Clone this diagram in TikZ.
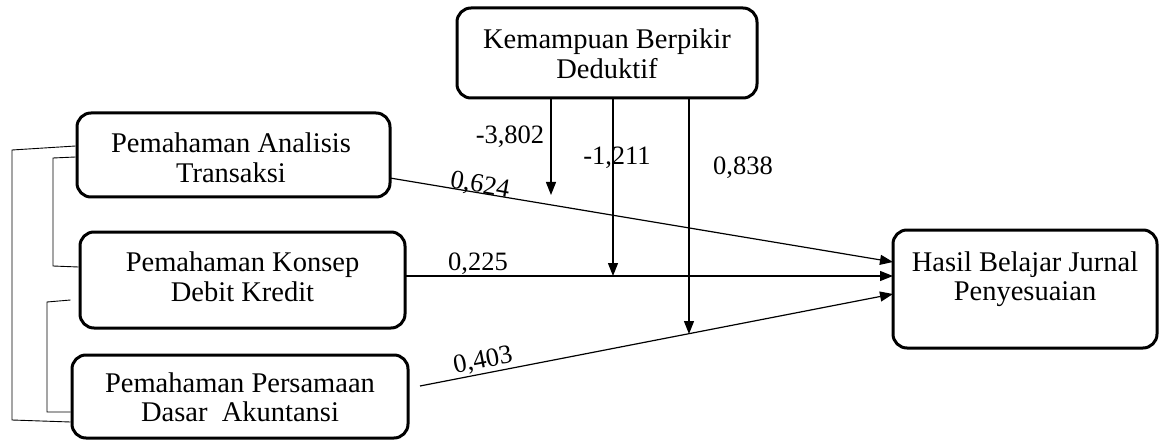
\documentclass[tikz,border=0pt]{standalone}
\usepackage{fontspec}
\setmainfont{Liberation Serif}
\usetikzlibrary{arrows.meta,calc}
\begin{document}
\begin{tikzpicture}[x=1pt,y=-1pt,
  box/.style={draw,line width=3pt,rounded corners=14pt,inner sep=0pt},
  boxtext/.style={align=center,font=\fontsize{28.5}{29.5}\selectfont,inner sep=0pt},
  conn/.style={line width=1.2pt,-{Triangle[length=13pt,width=10pt]}},
  brk/.style={line width=0.9pt},
  val/.style={font=\fontsize{26.5}{29}\selectfont,inner sep=0pt}]
\useasboundingbox (0,0) rectangle (1160,441);
% boxes
\node[box,minimum width=300pt,minimum height=90pt] (T) at (607,53) {};
\node[boxtext] (Tt) at (607,54) {Kemampuan Berpikir\\Deduktif};
\node[box,minimum width=313pt,minimum height=84pt] (A) at (233.5,155) {};
\node[boxtext] (At) at (231,158) {Pemahaman Analisis\\Transaksi};
\node[box,minimum width=325pt,minimum height=96pt] (K) at (242.5,280) {};
\node[boxtext] (Kt) at (242.5,277) {Pemahaman Konsep\\Debit Kredit};
\node[box,minimum width=336pt,minimum height=83pt] (P) at (240,396.5) {};
\node[boxtext] (Pt) at (240,397) {Pemahaman Persamaan\\Dasar\ \ Akuntansi};
\node[box,minimum width=264pt,minimum height=118pt] (H) at (1025,289) {};
\node[boxtext] (Ht) at (1025,279) {Hasil Belajar Jurnal\\Penyesuaian};
% connector end points
\coordinate (a1) at (390,178);
\coordinate (h1) at (893,262);
\coordinate (k1) at (405,276);
\coordinate (h2) at (893,276);
\coordinate (p1) at (420,386);
\coordinate (h3) at (893,294);
\coordinate (m1) at (551,195);
\coordinate (m2) at (613,276);
\coordinate (m3) at (689,334);
% main paths
\draw[conn] (a1) -- (h1);
\draw[conn] (k1) -- (h2);
\draw[conn] (p1) -- (h3);
% moderator arrows
\draw[conn] (T.south -| m1) -- (m1);
\draw[conn] (T.south -| m2) -- (m2);
\draw[conn] (T.south -| m3) -- (m3);
% correlation brackets
\draw[brk] (A.west |- 0,146) -- (12,150) -- (12,420) -- (P.west |- 0,422);
\draw[brk] (A.west |- 0,157) -- (53,158) -- (53,266) -- (K.west |- 0,267);
\draw[brk] (P.west |- 0,300) -- (47,302) -- (47,412) -- (P.west |- 0,412);
% labels
\node[val] (v1) at (510,137) {-3,802};
\node[val] (v2) at (617,158) {-1,211};
\node[val] (v3) at (743,168) {0,838};
\node[val,rotate=-10] (v4) at (480,186) {0,624};
\node[val] (v5) at (478,264) {0,225};
\node[val,rotate=11] (v6) at (483,361) {0,403};
\end{tikzpicture}
\end{document}
